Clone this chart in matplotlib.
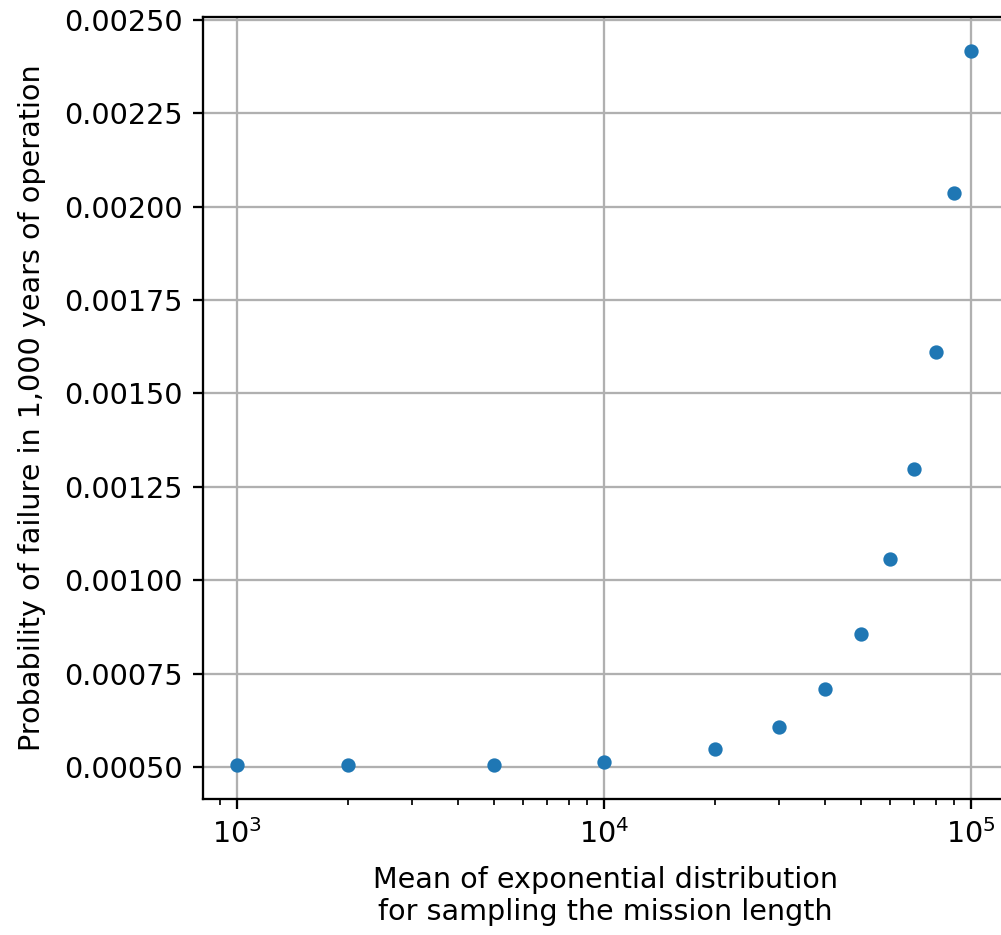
import matplotlib
matplotlib.use("Agg")
from matplotlib import pyplot as plt

# mean mission length (x) and probability of failure (y)
mean_length = [1000, 2000, 5000, 10000, 20000, 30000, 40000,
               50000, 60000, 70000, 80000, 90000, 100000]
p_failure = [0.000505, 0.000505, 0.000505, 0.000513, 0.000548, 0.000607, 0.000709,
             0.000856, 0.001057, 0.001298, 0.001611, 0.002037, 0.002417]

DPI = 206
fig = plt.figure(figsize=(1001 / DPI, 935 / DPI), dpi=DPI)
# axes run a little past the right edge, like the cropped original
ax = fig.add_axes([203 / 1001, 136 / 935, 805 / 1001, 782 / 935])

ax.scatter(mean_length, p_failure, s=16, color="#1f77b4", zorder=3)
ax.set_xscale("log")
ax.set_xlim(10 ** 2.907, 10 ** 5.1)
ax.set_ylim(0.000414, 0.002508)
ax.set_yticks([0.0005, 0.00075, 0.001, 0.00125, 0.0015, 0.00175, 0.002, 0.00225, 0.0025])
ax.set_yticklabels(["0.00050", "0.00075", "0.00100", "0.00125", "0.00150",
                    "0.00175", "0.00200", "0.00225", "0.00250"])
ax.grid(True)
ax.set_axisbelow(True)
ax.set_xlabel("Mean of exponential distribution\nfor sampling the mission length", labelpad=6)
ax.set_ylabel("Probability of failure in 1,000 years of operation", labelpad=6.5)

fig.savefig("out.png", dpi=DPI)
